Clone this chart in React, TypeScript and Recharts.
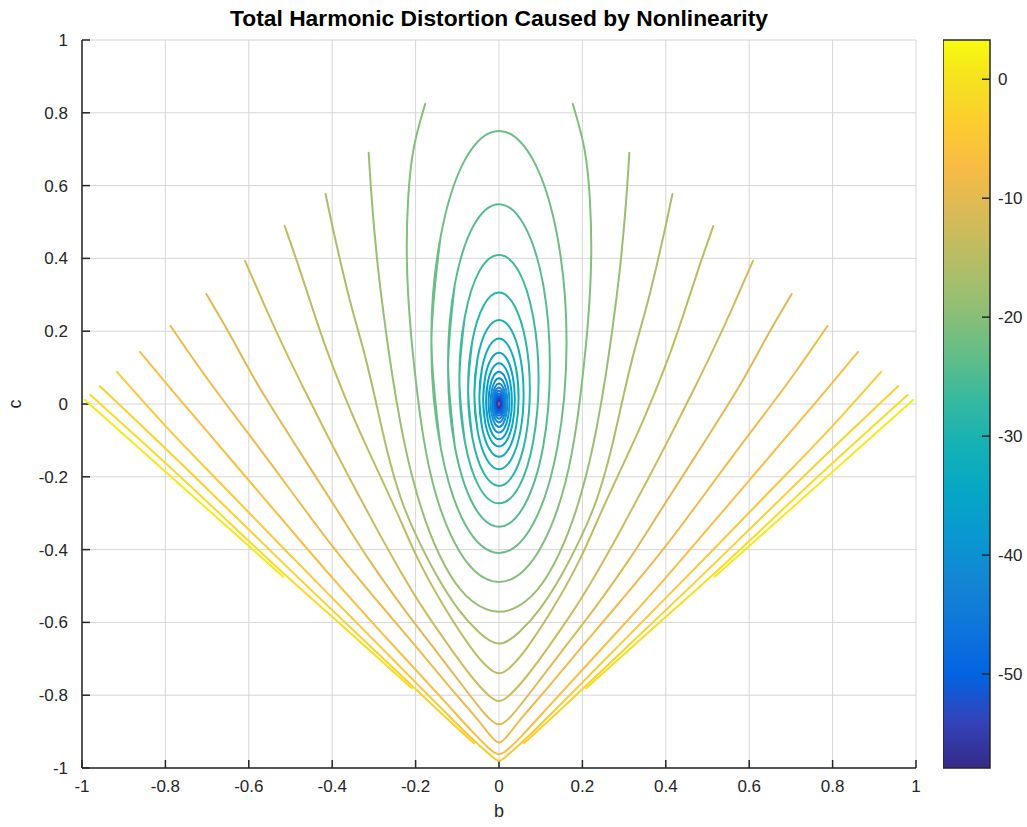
import { ScatterChart, Scatter, XAxis, YAxis, CartesianGrid, ComposedChart, ReferenceArea } from 'recharts';

type Pt = [number, number];

// axis ticks
const TICKS = [-1, -0.8, -0.6, -0.4, -0.2, 0, 0.2, 0.4, 0.6, 0.8, 1];
const CB_TICKS = [-50, -40, -30, -20, -10, 0];
const CB_MIN = -57.9;
const CB_MAX = 3.3;

// left halves of each contour, [b, c] (right side is the mirror image)
const L1: Pt[] = [[-0.993, 0.011], [-0.75, -0.237], [-0.517, -0.475]];
const L2: Pt[] = [[-0.98, 0.025], [-0.75, -0.215], [-0.551, -0.429], [-0.38, -0.605], [-0.209, -0.781]];
const L3: Pt[] = [[-0.957, 0.049], [-0.75, -0.177], [-0.525, -0.429], [-0.3, -0.675], [-0.15, -0.837], [-0.06, -0.932]];
const U9: Pt[] = [[-0.916, 0.088], [-0.8, -0.06], [-0.7, -0.18], [-0.6, -0.298], [-0.489, -0.429], [-0.38, -0.556], [-0.28, -0.672], [-0.18, -0.788], [-0.1, -0.88], [-0.05, -0.935], [-0.02, -0.965], [0, -0.98]];
const U8: Pt[] = [[-0.861, 0.143], [-0.78, 0.032], [-0.7, -0.075], [-0.6, -0.21], [-0.5, -0.344], [-0.4, -0.477], [-0.3, -0.605], [-0.2, -0.73], [-0.12, -0.83], [-0.06, -0.905], [-0.025, -0.945], [0, -0.962]];
const U7: Pt[] = [[-0.788, 0.215], [-0.7, 0.07], [-0.6, -0.083], [-0.5, -0.237], [-0.4, -0.39], [-0.3, -0.53], [-0.2, -0.665], [-0.12, -0.775], [-0.06, -0.855], [-0.025, -0.905], [0, -0.93]];
const U6: Pt[] = [[-0.702, 0.302], [-0.645, 0.19], [-0.585, 0.066], [-0.52, -0.055], [-0.455, -0.172], [-0.385, -0.297], [-0.311, -0.429], [-0.23, -0.56], [-0.15, -0.68], [-0.08, -0.785], [-0.035, -0.85], [0, -0.88]];
const U5: Pt[] = [[-0.609, 0.393], [-0.56, 0.265], [-0.513, 0.148], [-0.465, 0.035], [-0.41, -0.09], [-0.35, -0.222], [-0.29, -0.35], [-0.235, -0.462], [-0.18, -0.565], [-0.12, -0.665], [-0.065, -0.75], [-0.025, -0.8], [0, -0.816]];
const U4: Pt[] = [[-0.514, 0.489], [-0.478, 0.37], [-0.445, 0.255], [-0.413, 0.148], [-0.38, 0.05], [-0.34, -0.06], [-0.29, -0.185], [-0.24, -0.31], [-0.193, -0.429], [-0.13, -0.56], [-0.07, -0.665], [-0.03, -0.72], [0, -0.74]];
const U3: Pt[] = [[-0.416, 0.577], [-0.398, 0.48], [-0.377, 0.375], [-0.352, 0.26], [-0.325, 0.148], [-0.298, 0.02], [-0.27, -0.12], [-0.235, -0.26], [-0.195, -0.37], [-0.15, -0.47], [-0.1, -0.56], [-0.05, -0.625], [0, -0.658]];
const U2: Pt[] = [[-0.3125, 0.69], [-0.305, 0.56], [-0.293, 0.405], [-0.277, 0.25], [-0.256, 0.08], [-0.235, -0.06], [-0.208, -0.2], [-0.167, -0.35], [-0.117, -0.47], [-0.066, -0.54], [0, -0.571]];
const U1: Pt[] = [[-0.177, 0.824], [-0.205, 0.7], [-0.218, 0.56], [-0.221, 0.4], [-0.213, 0.22], [-0.198, 0.05], [-0.18, -0.1], [-0.151, -0.25], [-0.107, -0.38], [-0.057, -0.46], [0, -0.489]];

// closed rings, top -> left side -> bottom
const E1: Pt[] = [[0, 0.75], [-0.081, 0.672], [-0.14, 0.46], [-0.162, 0.171], [-0.14, -0.119], [-0.081, -0.331], [0, -0.409]];
const E2: Pt[] = [[0, 0.549], [-0.061, 0.49], [-0.106, 0.328], [-0.122, 0.106], [-0.106, -0.116], [-0.061, -0.278], [0, -0.337]];
const E3: Pt[] = [[0, 0.409], [-0.048, 0.363], [-0.082, 0.239], [-0.095, 0.068], [-0.082, -0.103], [-0.048, -0.227], [0, -0.273]];
const E4: Pt[] = [[0, 0.306], [-0.037, 0.27], [-0.064, 0.173], [-0.074, 0.041], [-0.064, -0.092], [-0.037, -0.189], [0, -0.225]];
const E5: Pt[] = [[0, 0.231], [-0.0295, 0.2035], [-0.051, 0.1285], [-0.059, 0.026], [-0.051, -0.0765], [-0.0295, -0.1515], [0, -0.179]];
const E6: Pt[] = [[0, 0.18], [-0.0235, 0.158], [-0.0407, 0.0988], [-0.047, 0.0175], [-0.0407, -0.0638], [-0.0235, -0.1232], [0, -0.145]];
const E7: Pt[] = [[0, 0.141], [-0.019, 0.1237], [-0.0329, 0.0765], [-0.038, 0.012], [-0.0329, -0.0525], [-0.019, -0.0997], [0, -0.117]];
const E8: Pt[] = [[0, 0.112], [-0.0155, 0.098], [-0.0268, 0.0598], [-0.031, 0.0075], [-0.0268, -0.0448], [-0.0155, -0.083], [0, -0.097]];
const E9: Pt[] = [[0, 0.0886], [-0.0125, 0.0774], [-0.0217, 0.0468], [-0.025, 0.005], [-0.0217, -0.0368], [-0.0125, -0.0674], [0, -0.0786]];
const E10: Pt[] = [[0, 0.0709], [-0.01, 0.0619], [-0.0173, 0.0375], [-0.02, 0.004], [-0.0173, -0.0295], [-0.01, -0.0539], [0, -0.0629]];
const E11: Pt[] = [[0, 0.0565], [-0.008, 0.0493], [-0.0139, 0.0298], [-0.016, 0.003], [-0.0139, -0.0238], [-0.008, -0.0433], [0, -0.0505]];
const E12: Pt[] = [[0, 0.0453], [-0.0064, 0.0396], [-0.0111, 0.0239], [-0.0128, 0.0025], [-0.0111, -0.0189], [-0.0064, -0.0346], [0, -0.0403]];
const E13: Pt[] = [[0, 0.0362], [-0.0052, 0.0316], [-0.0089, 0.0191], [-0.0103, 0.002], [-0.0089, -0.0151], [-0.0052, -0.0276], [0, -0.0322]];
const E14: Pt[] = [[0, 0.0289], [-0.0041, 0.0252], [-0.0071, 0.0152], [-0.0082, 0.0015], [-0.0071, -0.0122], [-0.0041, -0.0222], [0, -0.0259]];
const E15: Pt[] = [[0, 0.0229], [-0.0033, 0.02], [-0.0057, 0.012], [-0.0066, 0.001], [-0.0057, -0.01], [-0.0033, -0.018], [0, -0.0209]];
const E16: Pt[] = [[0, 0.0185], [-0.0027, 0.0162], [-0.0046, 0.0098], [-0.0053, 0.001], [-0.0046, -0.0078], [-0.0027, -0.0142], [0, -0.0165]];
const E17: Pt[] = [[0, 0.0148], [-0.0021, 0.0129], [-0.0036, 0.0078], [-0.0042, 0.0008], [-0.0036, -0.0062], [-0.0021, -0.0113], [0, -0.0132]];
const E18: Pt[] = [[0, 0.0118], [-0.0017, 0.0103], [-0.0029, 0.0062], [-0.0034, 0.0006], [-0.0029, -0.005], [-0.0017, -0.0091], [0, -0.0106]];

// contour level (dB) of each curve, same order as CURVES
const LEVELS = [1.3, -0.7, -2.6, -4.6, -6.6, -8.5, -10.5, -12.5, -14.4, -16.4, -18.4, -20.4,
  -22.3, -24.3, -26.3, -28.3, -30.2, -32.2, -34.2, -36.2, -38.1, -40.1, -42.1, -44.1, -46.0, -48.0, -50.0, -52.0, -53.9, -55.9];

const CURVES: { name: string; half: Pt[]; kind: 'closed' | 'open' | 'piece' }[] = [
  { name: 'L1', half: L1, kind: 'piece' },
  { name: 'L2', half: L2, kind: 'piece' },
  { name: 'L3', half: L3, kind: 'piece' },
  { name: 'U9', half: U9, kind: 'open' },
  { name: 'U8', half: U8, kind: 'open' },
  { name: 'U7', half: U7, kind: 'open' },
  { name: 'U6', half: U6, kind: 'open' },
  { name: 'U5', half: U5, kind: 'open' },
  { name: 'U4', half: U4, kind: 'open' },
  { name: 'U3', half: U3, kind: 'open' },
  { name: 'U2', half: U2, kind: 'open' },
  { name: 'U1', half: U1, kind: 'open' },
  { name: 'E1', half: E1, kind: 'closed' },
  { name: 'E2', half: E2, kind: 'closed' },
  { name: 'E3', half: E3, kind: 'closed' },
  { name: 'E4', half: E4, kind: 'closed' },
  { name: 'E5', half: E5, kind: 'closed' },
  { name: 'E6', half: E6, kind: 'closed' },
  { name: 'E7', half: E7, kind: 'closed' },
  { name: 'E8', half: E8, kind: 'closed' },
  { name: 'E9', half: E9, kind: 'closed' },
  { name: 'E10', half: E10, kind: 'closed' },
  { name: 'E11', half: E11, kind: 'closed' },
  { name: 'E12', half: E12, kind: 'closed' },
  { name: 'E13', half: E13, kind: 'closed' },
  { name: 'E14', half: E14, kind: 'closed' },
  { name: 'E15', half: E15, kind: 'closed' },
  { name: 'E16', half: E16, kind: 'closed' },
  { name: 'E17', half: E17, kind: 'closed' },
  { name: 'E18', half: E18, kind: 'closed' },
];

// parula, sampled every 4th entry of the 64-colour map
const PARULA = ['#352a87', '#3243ba', '#0363e1', '#0d75dc', '#1485d4', '#0998d1', '#06a7c6', '#15b1b4', '#38b99e',
  '#65be86', '#92bf73', '#b7bd64', '#d9ba56', '#f8bb44', '#fcce2e', '#f5e41d', '#f9fb0e'];
const PARULA_POS = [0, 4, 8, 12, 16, 20, 24, 28, 32, 36, 40, 44, 48, 52, 56, 60, 63].map((r) => r / 63);
const FONT = '"Liberation Sans", Arial, Helvetica, sans-serif';
const AXIS = '#262626';

function parula(v: number) {
  const t = Math.min(1, Math.max(0, (v - CB_MIN) / (CB_MAX - CB_MIN)));
  let i = 0;
  while (i < PARULA_POS.length - 2 && t > PARULA_POS[i + 1]) i++;
  const f = (t - PARULA_POS[i]) / (PARULA_POS[i + 1] - PARULA_POS[i]);
  const a = PARULA[i], b = PARULA[i + 1];
  const ch = (s: string, k: number) => parseInt(s.slice(1 + 2 * k, 3 + 2 * k), 16);
  const out = [0, 1, 2].map((k) => Math.round(ch(a, k) + (ch(b, k) - ch(a, k)) * f).toString(16).padStart(2, '0'));
  return '#' + out.join('');
}

const mirror = (p: Pt): Pt => [-p[0], p[1]];

// half ring -> full ring; start one point before the widest left point and run one point past it,
// so the spline passes smoothly through the seam
function closedLoop(half: Pt[]): Pt[] {
  const n = half.length - 1;
  const ring = [...half, ...half.slice(1, n).reverse().map(mirror)];
  const len = ring.length;
  const k = Math.floor(n / 2);
  const out: Pt[] = [];
  for (let j = -1; j <= len + 1; j++) out.push(ring[(k + j + len) % len]);
  return out;
}

function openU(half: Pt[]): Pt[] {
  return [...half, ...half.slice(0, -1).reverse().map(mirror)];
}

const series: { key: string; pts: Pt[]; color: string }[] = [];
CURVES.forEach((cv, i) => {
  const color = parula(LEVELS[i]);
  if (cv.kind === 'closed') series.push({ key: cv.name, pts: closedLoop(cv.half), color });
  else if (cv.kind === 'open') series.push({ key: cv.name, pts: openU(cv.half), color });
  else {
    series.push({ key: cv.name + 'l', pts: cv.half, color });
    series.push({ key: cv.name + 'r', pts: cv.half.map(mirror), color });
  }
});

const tickStyle = { fontSize: 17, fill: AXIS, fontFamily: FONT };
const noTick = () => <g />;

export default function App() {
  return (
    <div style={{ position: 'absolute', left: 0, top: 0, width: 1027, height: 827, background: '#fff', fontFamily: FONT }}>
      <svg width={0} height={0} style={{ position: 'absolute' }}>
        <defs>
          <linearGradient id="parulaGrad" x1="0" y1="1" x2="0" y2="0">
            {PARULA.map((c, i) => (
              <stop key={i} offset={PARULA_POS[i]} stopColor={c} />
            ))}
          </linearGradient>
        </defs>
      </svg>

      <div style={{ position: 'absolute', left: 0, top: 7, width: 998, textAlign: 'center', fontWeight: 'bold', fontSize: 22.8, lineHeight: '23px', color: '#000' }}>
        Total Harmonic Distortion Caused by Nonlinearity
      </div>

      <div style={{ position: 'absolute', left: 0, top: 0 }}>
        <ScatterChart width={940} height={827} margin={{ top: 40, right: 24, bottom: 0, left: 0 }}>
          <CartesianGrid stroke="#d6d6d6" strokeWidth={1} />
          <XAxis type="number" dataKey="b" domain={[-1, 1]} ticks={TICKS} interval={0} allowDataOverflow height={59}
            tickSize={-8} tickMargin={20} tick={tickStyle}
            axisLine={{ stroke: AXIS, strokeWidth: 1.5 }} tickLine={{ stroke: AXIS, strokeWidth: 1.5 }} />
          <XAxis xAxisId="top" orientation="top" type="number" dataKey="b" domain={[-1, 1]} ticks={TICKS} interval={0} allowDataOverflow height={0}
            tickSize={-8} tick={noTick}
            axisLine={{ stroke: AXIS, strokeWidth: 1.5 }} tickLine={{ stroke: AXIS, strokeWidth: 1.5 }} />
          <YAxis type="number" dataKey="c" domain={[-1, 1]} ticks={TICKS} interval={0} allowDataOverflow width={82}
            tickSize={-8} tickMargin={22} tick={tickStyle}
            axisLine={{ stroke: AXIS, strokeWidth: 1.5 }} tickLine={{ stroke: AXIS, strokeWidth: 1.5 }} />
          <YAxis yAxisId="right" orientation="right" type="number" dataKey="c" domain={[-1, 1]} ticks={TICKS} interval={0} allowDataOverflow width={0}
            tickSize={-8} tick={noTick}
            axisLine={{ stroke: AXIS, strokeWidth: 1.5 }} tickLine={{ stroke: AXIS, strokeWidth: 1.5 }} />
          {series.map((s) => (
            <Scatter
              key={s.key}
              name={s.key}
              data={s.pts.map(([b, c]) => ({ b, c }))}
              fill={s.color}
              line={{ stroke: s.color, strokeWidth: 2, strokeLinejoin: 'round', strokeLinecap: 'round' }}
              lineJointType="natural"
              shape={noTick}
              isAnimationActive={false}
            />
          ))}
        </ScatterChart>
      </div>

      <div style={{ position: 'absolute', left: 943, top: 0 }}>
        <ComposedChart width={84} height={827} margin={{ top: 40, right: 0, bottom: 59, left: 0 }}>
          <XAxis type="number" dataKey="x" domain={[0, 1]} allowDataOverflow hide />
          <ReferenceArea x1={0} x2={1} y1={CB_MIN} y2={CB_MAX} fill="url(#parulaGrad)" fillOpacity={1} stroke={AXIS} strokeWidth={1.5} />
          <YAxis orientation="right" type="number" dataKey="v" domain={[CB_MIN, CB_MAX]} ticks={CB_TICKS} interval={0} allowDataOverflow width={37}
            tickSize={-8} tickMargin={16} tick={tickStyle} axisLine={false} tickLine={{ stroke: AXIS, strokeWidth: 1.5 }} />
        </ComposedChart>
      </div>

      <div style={{ position: 'absolute', left: 0, top: 801, width: 998, textAlign: 'center', fontSize: 18, lineHeight: '20px', color: AXIS }}>b</div>
      <svg width={30} height={827} style={{ position: 'absolute', left: 0, top: 0 }}>
        <text x={15} y={404} transform="rotate(-90 15 404)" textAnchor="middle" dominantBaseline="central" fontSize={18} fill={AXIS} fontFamily={FONT}>c</text>
      </svg>
    </div>
  );
}
